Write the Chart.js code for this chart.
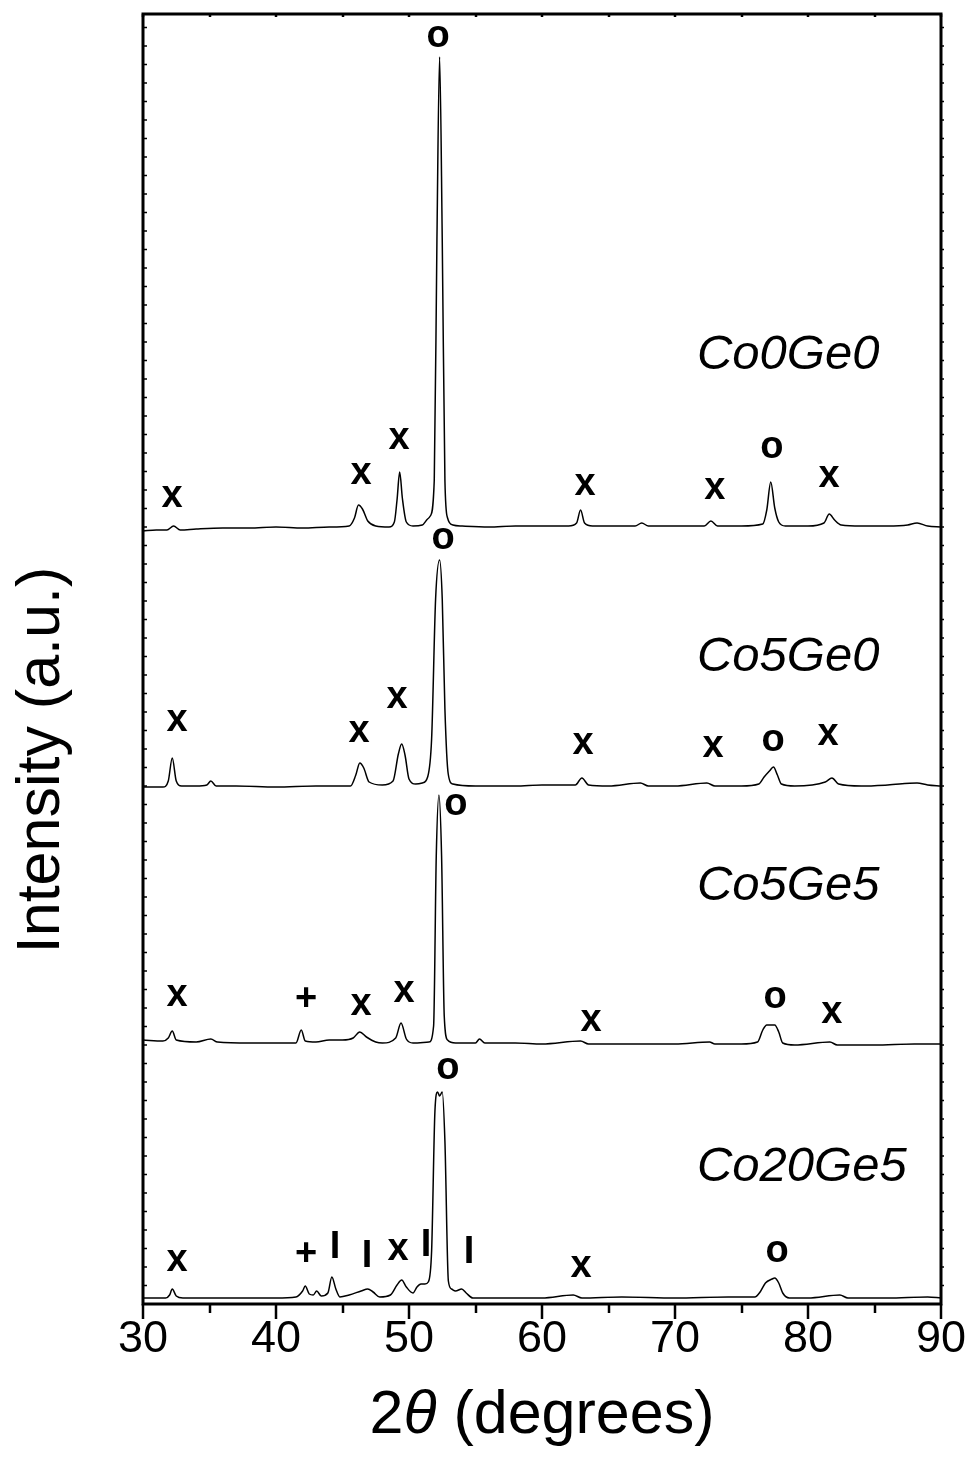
<!DOCTYPE html>
<html>
<head>
<meta charset="utf-8">
<script src="https://cdn.jsdelivr.net/npm/chart.js@4.4.1/dist/chart.umd.min.js"></script>
<style>
  body { margin: 0; background: #fff; }
  canvas { display: block; }
</style>
</head>
<body>
<canvas id="myChart" width="970" height="1477"></canvas>
<script>
// XRD patterns, [2theta, intensity] (a.u.)
const co0ge0 = [[30,9],[31,10],[31.8,10],[32.3,14],[32.8,10],[34,11],[36,12],[38,12],[40,13],[42,12],[44,13],
  [45.5,14],[45.9,22],[46.2,35],[46.5,31],[46.9,19],[47.5,14],[48.5,13],[48.9,18],[49.1,40],[49.3,68],[49.5,42],
  [49.8,18],[50.3,14],[51,15],[51.4,21],[51.6,24],[51.9,60],[52.1,300],[52.3,483],[52.5,300],[52.7,60],[52.9,22],
  [53.3,15],[54,14],[56,13],[58,14],[60,14],[62,14],[62.6,17],[62.9,30],[63.2,17],[63.8,14],[65,14],[67,14],
  [67.5,17],[68,14],[70,14],[72.2,14],[72.7,19],[73.2,14],[75,14],[76.6,16],[76.9,30],[77.2,58],[77.5,32],
  [77.8,18],[78.3,14],[80,14],[81.2,17],[81.6,26],[82,20],[82.5,15],[84,14],[86,14],[87.5,15],[88.2,17],[89,14],[90,13]];
const co5ge0 = [[30,12],[31.5,12],[31.9,18],[32.2,41],[32.5,18],[32.9,13],[34,13],[34.8,14],[35.1,18],[35.5,13],
  [37,13],[40,12],[43,13],[45.6,13],[46,24],[46.3,36],[46.6,31],[47,17],[48,14],[48.8,18],[49.2,45],[49.45,55],
  [49.7,44],[50,20],[50.5,15],[51,16],[51.4,22],[51.7,60],[52,200],[52.3,239],[52.5,200],[52.7,90],[52.95,25],
  [53.3,15],[55,13],[58,13],[60,14],[62.5,14],[63,21],[63.5,14],[65,13],[67.4,16],[68,13],[70,13],[72.4,16],
  [73,13],[75,13],[76.3,15],[76.7,22],[77.1,28],[77.4,32],[77.7,24],[78,15],[79,13],[81.3,17],[81.8,21],
  [82.3,15],[84,13],[86,14],[88.2,16],[89,14],[90,13]];
const co5ge5 = [[30,16],[31.5,15],[31.9,18],[32.2,25],[32.5,16],[34,14],[35.1,17],[35.6,14],[38,13],[40,13],
  [41.5,13],[41.9,26],[42.2,15],[43,14],[44,16],[45,16],[45.8,18],[46.3,24],[46.8,19],[47.5,14],[48,13],[49,18],
  [49.4,33],[49.8,17],[50.3,13],[51.5,14],[51.85,30],[52.05,200],[52.25,261],[52.45,200],[52.65,40],[52.9,16],
  [53.5,13],[55,13],[55.3,17],[55.7,13],[58,13],[60,12],[62.9,15],[63.5,12],[66,12],[70,12],[72.6,14],[73,12],
  [75,12],[76.2,14],[76.6,26],[76.9,31],[77.5,31],[77.8,24],[78.1,13],[79,11],[81.65,14],[82.2,11],[85,11],
  [88,12],[90,12]];
const co20ge5 = [[30,13],[31.7,13],[32,16],[32.2,22],[32.5,15],[33,13],[35,13],[38,13],[40,13],[41.5,14],[42,20],
  [42.2,25],[42.5,17],[42.8,16],[43.06,20],[43.4,15],[43.9,18],[44.2,34],[44.5,22],[44.8,14],[45.5,16],[46.4,20],
  [46.9,22],[47.3,19],[47.8,14],[48.6,16],[49.1,26],[49.45,31],[49.8,24],[50.3,18],[50.6,24],[50.9,27],[51.2,27],
  [51.45,29],[51.7,60],[51.95,200],[52.15,219],[52.3,215],[52.5,219],[52.7,170],[52.96,30],[53.2,22],[53.5,20],
  [53.96,22],[54.3,18],[54.8,13],[57,13],[60,13],[62.35,16],[63,13],[66,14],[70,13],[74,14],[76,14],[76.4,19],
  [76.8,28],[77.3,32],[77.5,33],[77.8,28],[78.1,18],[78.6,13],[80,13],[82.4,16],[83,13],[86,13],[89,14],[90,13]];

const sampleNames = ['Co0Ge0', 'Co5Ge0', 'Co5Ge5', 'Co20Ge5'];
const offsets = [771, 512, 255, 0];
const series = [co0ge0, co5ge0, co5ge5, co20ge5];

// phase markers: [symbol, 2theta, height above trace zero]
const co0ge0Marks = [['o',52.18,503],['x',32.18,43],['x',46.39,66],['x',49.25,101],['x',63.23,55],['x',73.0,51],['o',77.29,92],['x',81.58,63]];
const co5ge0Marks = [['o',52.56,260],['x',32.56,78],['x',46.24,67],['x',49.1,101],['x',63.08,55],['x',72.86,52],['o',77.37,58],['x',81.5,64]];
const co5ge5Marks = [['o',53.53,251],['x',32.56,60],['+',42.26,56],['x',46.39,51],['x',49.62,64],['x',63.68,35],['o',77.52,58],['x',81.8,43]];
const co20ge5Marks = [['o',52.93,242],['x',32.56,50],['+',42.26,56],['I',44.44,63],['I',46.84,54],['x',49.17,61],['I',51.28,65],['I',54.51,58],['x',62.93,44],['o',77.67,59]];
const marks = [co0ge0Marks, co5ge0Marks, co5ge5Marks, co20ge5Marks];
const nameAt = [[71.65,185],[71.65,142],[71.65,170],[71.65,144]];

const xTicks = [30, 40, 50, 60, 70, 80, 90];

const FONT = '"Liberation Sans", Arial, sans-serif';

const decor = {
  id: 'decor',
  afterDraw(chart) {
    const c = chart.ctx, a = chart.chartArea;
    const xs = chart.scales.x, ys = chart.scales.y;
    c.save();
    c.strokeStyle = '#000';
    // frame
    c.lineWidth = 3;
    c.strokeRect(a.left, a.top, a.right - a.left, a.bottom - a.top);
    // bottom ticks, major and minor
    c.lineWidth = 2.5;
    for (let v = 30; v <= 90; v += 5) {
      const px = Math.round(xs.getPixelForValue(v));
      const len = v % 10 === 0 ? 15 : 9;
      c.beginPath();
      c.moveTo(px, a.bottom);
      c.lineTo(px, a.bottom + len);
      c.stroke();
      c.beginPath();
      c.moveTo(px, a.top);
      c.lineTo(px, a.top + 3);
      c.stroke();
    }
    // small ticks on side edges
    c.lineWidth = 1.5;
    for (let py = a.bottom - 18.5; py > a.top + 4; py -= 18.5) {
      c.beginPath();
      c.moveTo(a.left, py); c.lineTo(a.left + 4, py);
      c.moveTo(a.right, py); c.lineTo(a.right + 3, py);
      c.stroke();
    }
    // markers and sample names
    c.fillStyle = '#000';
    c.textAlign = 'center';
    c.textBaseline = 'middle';
    c.font = 'bold 38px ' + FONT;
    marks.forEach((list, i) => {
      list.forEach(([s, x, h]) => {
        c.fillText(s, xs.getPixelForValue(x), ys.getPixelForValue(h + offsets[i]));
      });
    });
    c.textAlign = 'left';
    c.font = 'italic 49px ' + FONT;
    sampleNames.forEach((n, i) => {
      c.fillText(n, xs.getPixelForValue(nameAt[i][0]), ys.getPixelForValue(nameAt[i][1] + offsets[i]));
    });
    // axis titles
    c.font = '61px ' + FONT;
    const p1 = '2', p3 = ' (degrees)';
    const w1 = c.measureText(p1).width, w3 = c.measureText(p3).width;
    c.font = 'italic 61px ' + FONT;
    const w2 = c.measureText('\u03b8').width;
    let tx = 542 - (w1 + w2 + w3) / 2;
    const ty = 1416;
    c.font = '61px ' + FONT;
    c.fillText(p1, tx, ty);
    c.font = 'italic 61px ' + FONT;
    c.fillText('\u03b8', tx + w1, ty);
    c.font = '61px ' + FONT;
    c.fillText(p3, tx + w1 + w2, ty);
    c.translate(42, 760);
    c.rotate(-Math.PI / 2);
    c.textAlign = 'center';
    c.fillText('Intensity (a.u.)', 0, 0);
    c.restore();
  }
};

const ctx = document.getElementById('myChart').getContext('2d');
const chart = new Chart(ctx, {
  type: 'line',
  data: {
    datasets: series.map((s, i) => ({
      label: sampleNames[i],
      data: s.map(([x, v]) => ({ x: x, y: v + offsets[i] })),
      borderColor: '#000',
      borderWidth: 1.5,
      pointRadius: 0,
      cubicInterpolationMode: 'monotone',
      fill: false
    }))
  },
  options: {
    responsive: false,
    animation: false,
    layout: { padding: { top: 14, right: 29, left: 0, bottom: 0 } },
    plugins: { legend: { display: false }, tooltip: { enabled: false } },
    scales: {
      x: {
        type: 'linear',
        min: 30, max: 90,
        afterFit: (s) => { s.height = 173; s.paddingRight = 0; s.paddingLeft = 0; },
        afterBuildTicks: (s) => { s.ticks = xTicks.map(v => ({ value: v })); },
        grid: { drawOnChartArea: false, drawTicks: false },
        border: { display: false },
        ticks: { color: '#000', padding: 9, font: { family: FONT, size: 45 } }
      },
      y: {
        min: 7, max: 1297,
        afterFit: (s) => { s.width = 143; s.paddingTop = 0; s.paddingBottom = 0; },
        grid: { display: false },
        border: { display: false },
        ticks: { display: false }
      }
    }
  },
  plugins: [decor]
});
</script>
</body>
</html>
